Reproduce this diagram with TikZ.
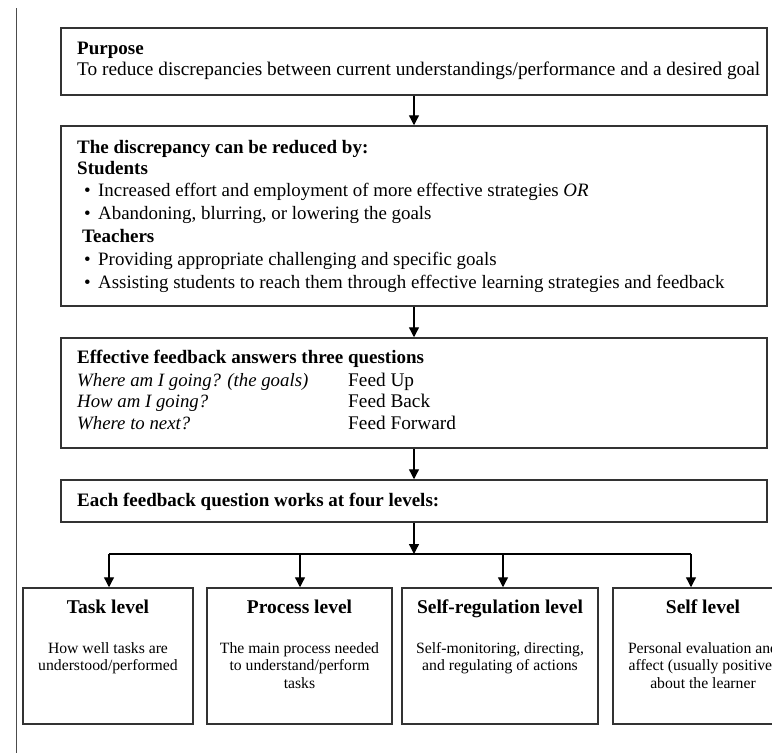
\documentclass[tikz,border=0pt]{standalone}
\usepackage{fontspec}
\setmainfont{Liberation Serif}
\usetikzlibrary{arrows.meta,calc}
\begin{document}
\begin{tikzpicture}[x=1pt,y=-1pt,
  box/.style={draw=black!80,line width=1.5pt,inner sep=0pt},
  txt/.style={inner sep=0pt,anchor=base west,font=\fontsize{19.3}{22}\selectfont},
  ltxt/.style={txt,font=\fontsize{18.9}{22}\selectfont},
  btxt/.style={txt,font=\fontsize{19}{22}\selectfont\bfseries},
  itxt/.style={txt,font=\fontsize{18.8}{22}\selectfont\itshape},
  ttl/.style={inner sep=0pt,anchor=base,font=\fontsize{19.5}{22}\selectfont\bfseries},
  dsc/.style={inner sep=0pt,anchor=base,font=\fontsize{15.7}{17}\selectfont},
  arr/.style={draw=black,line width=1.3pt,-{Triangle[width=10pt,length=10pt]}},
  ln/.style={draw=black,line width=1.3pt}]
\useasboundingbox (0,0) rectangle (772,753);
\clip (0,0) rectangle (772,753);
\fill[white] (0,0) rectangle (772,753);
% left margin rule
\coordinate (rt) at (16,8);
\coordinate (rb) at (16,753);
\draw[black!70,line width=1pt] (rt) -- (rb);

% boxes
\node[box,minimum width=706pt,minimum height=67pt] (purpose) at (414,61.5) {};
\node[box,minimum width=706pt,minimum height=180pt] (reduce) at (414,216) {};
\node[box,minimum width=706pt,minimum height=110pt] (questions) at (414,393) {};
\node[box,minimum width=706pt,minimum height=42pt] (levels) at (414,501) {};

\node[box,minimum width=170pt,minimum height=136pt] (task) at (108,656) {};
\node[box,minimum width=185pt,minimum height=136pt] (process) at (299.5,656) {};
\node[box,minimum width=196pt,minimum height=136pt] (selfreg) at (500,656) {};
\node[box,minimum width=180pt,minimum height=136pt] (self) at (703,656) {};

% box 1 text
\node[btxt] (t1a) at (77,54) {Purpose};
\node[txt] (t1b) at (77,75) {To reduce discrepancies between current understandings/performance and a desired goal};

% box 2 text
\node[btxt] (t2a) at (77,153) {The discrepancy can be reduced by:};
\node[btxt] (t2b) at (77,174) {Students};
\node[ltxt] (b1) at (84,196) {\textbullet};
\node[ltxt] (t2c) at (98,196) {Increased effort and employment of more effective strategies \textit{OR}};
\node[ltxt] (b2) at (84,219) {\textbullet};
\node[ltxt] (t2d) at (98,219) {Abandoning, blurring, or lowering the goals};
\node[btxt] (t2e) at (82,242) {Teachers};
\node[ltxt] (b3) at (84,265) {\textbullet};
\node[ltxt] (t2f) at (98,265) {Providing appropriate challenging and specific goals};
\node[ltxt] (b4) at (84,288) {\textbullet};
\node[ltxt] (t2g) at (98,288) {Assisting students to reach them through effective learning strategies and feedback};

% box 3 text
\node[btxt] (t3a) at (77,363) {Effective feedback answers three questions};
\node[itxt] (q1) at (77,386) {Where am I going? (the goals)};
\node[itxt] (q2) at (77,407) {How am I going?};
\node[itxt] (q3) at (77,429) {Where to next?};
\node[txt] (f1) at (348,386) {Feed Up};
\node[txt] (f2) at (348,407) {Feed Back};
\node[txt] (f3) at (348,429) {Feed Forward};

% box 4 text
\node[btxt] (t4) at (77,506) {Each feedback question works at four levels:};

% bottom boxes text
\node[ttl] (ta) at (108,613) {Task level};
\node[dsc] (da1) at (108,653) {How well tasks are};
\node[dsc] (da2) at (108,670) {understood/performed};

\node[ttl] (tb) at (299.5,613) {Process level};
\node[dsc] (db1) at (299.5,653) {The main process needed};
\node[dsc] (db2) at (299.5,670) {to understand/perform};
\node[dsc] (db3) at (299.5,688) {tasks};

\node[ttl] (tc) at (500,613) {Self-regulation level};
\node[dsc] (dc1) at (500,653) {Self-monitoring, directing,};
\node[dsc] (dc2) at (500,670) {and regulating of actions};

\node[ttl] (td) at (703,613) {Self level};
\node[dsc] (dd1) at (703,653) {Personal evaluation and};
\node[dsc] (dd2) at (703,670) {affect (usually positive)};
\node[dsc] (dd3) at (703,688) {about the learner};

% connectors
\draw[arr] (purpose.south) -- (reduce.north);
\draw[arr] (reduce.south) -- (questions.north);
\draw[arr] (questions.south) -- (levels.north);
\coordinate (bus) at (414,554);
\coordinate (jA) at (109,554);
\coordinate (jB) at (300,554);
\coordinate (jC) at (503,554);
\coordinate (jD) at (691,554);
\draw[arr] (levels.south) -- (bus);
\draw[ln] (jA) -- (jD);
\draw[arr] (jA) -- (jA |- task.north);
\draw[arr] (jB) -- (jB |- process.north);
\draw[arr] (jC) -- (jC |- selfreg.north);
\draw[arr] (jD) -- (jD |- self.north);
\end{tikzpicture}
\end{document}
